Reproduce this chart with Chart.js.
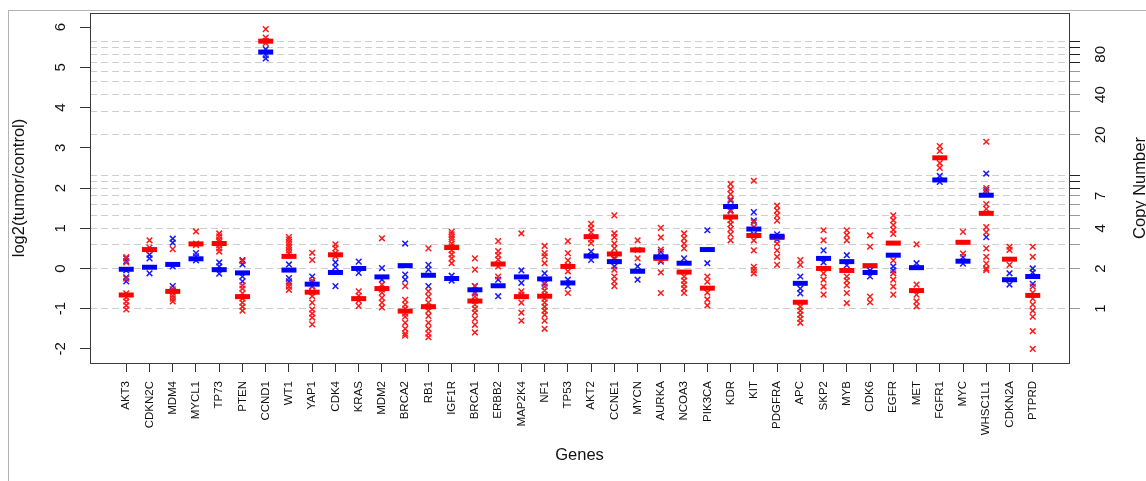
<!DOCTYPE html>
<html>
<head>
<meta charset="utf-8">
<script src="https://cdn.jsdelivr.net/npm/chart.js@4.4.1/dist/chart.umd.min.js"></script>
<style>
  html, body { margin: 0; padding: 0; background: #fff; }
  #wrap { width: 1146px; height: 481px; }
</style>
</head>
<body>
<div id="wrap"><canvas id="chart" width="1146" height="481"></canvas></div>
<script>
const genes = ['AKT3','CDKN2C','MDM4','MYCL1','TP73','PTEN','CCND1','WT1','YAP1','CDK4','KRAS','MDM2','BRCA2','RB1','IGF1R','BRCA1','ERBB2','MAP2K4','NF1','TP53','AKT2','CCNE1','MYCN','AURKA','NCOA3','PIK3CA','KDR','KIT','PDGFRA','APC','SKP2','MYB','CDK6','EGFR','MET','FGFR1','MYC','WHSC1L1','CDKN2A','PTPRD'];

// medians, one per gene
const redMedian = [-0.66, 0.47, -0.57, 0.61, 0.62, -0.70, 5.65, 0.30, -0.59, 0.34, -0.75, -0.50, -1.06, -0.95, 0.52, -0.81, 0.11, -0.70, -0.69, 0.05, 0.79, 0.36, 0.46, 0.25, -0.09, -0.49, 1.28, 0.82, 0.77, -0.84, 0.00, -0.05, 0.07, 0.63, -0.55, 2.75, 0.65, 1.37, 0.23, -0.67];
const blueMedian = [-0.02, 0.03, 0.10, 0.24, -0.03, -0.11, 5.38, -0.04, -0.39, -0.10, 0.00, -0.21, 0.07, -0.17, -0.25, -0.53, -0.43, -0.21, -0.26, -0.36, 0.31, 0.17, -0.07, 0.29, 0.13, 0.47, 1.54, 0.98, 0.80, -0.37, 0.25, 0.17, -0.10, 0.33, 0.02, 2.20, 0.18, 1.82, -0.28, -0.20];

// individual samples per gene
const redPoints = [
  [0.28, 0.15, -0.25, -0.62, -0.72, -0.82, -0.92, -1.02],
  [0.70, 0.52, 0.45],
  [0.48, -0.52, -0.60, -0.68, -0.75, -0.82],
  [0.92, 0.62, 0.58],
  [0.87, 0.80, 0.72, 0.66, 0.58, 0.50, 0.42],
  [0.18, -0.42, -0.50, -0.62, -0.75, -0.85, -0.95, -1.05],
  [5.95, 5.74, 5.66, 5.60],
  [0.78, 0.72, 0.65, 0.58, 0.52, 0.45, 0.38, -0.38, -0.45, -0.53],
  [0.39, 0.21, -0.30, -0.44, -0.59, -0.69, -0.85, -1.02, -1.12, -1.22, -1.39],
  [0.60, 0.50, 0.38, 0.30],
  [-0.57, -0.68, -0.80, -0.93],
  [0.75, -0.40, -0.52, -0.60, -0.73, -0.85, -0.97],
  [-0.44, -0.78, -0.90, -1.00, -1.12, -1.20, -1.35, -1.50, -1.62, -1.67],
  [0.50, -0.57, -0.70, -0.85, -0.95, -1.05, -1.18, -1.35, -1.50, -1.62, -1.71],
  [0.91, 0.85, 0.78, 0.72, 0.62, 0.55, 0.45, 0.35, 0.25, 0.13],
  [0.25, -0.03, -0.44, -0.60, -0.70, -0.80, -0.90, -1.00, -1.10, -1.25, -1.40, -1.59],
  [0.68, 0.43, 0.33, 0.22, 0.05, -0.20],
  [0.87, -0.57, -0.65, -0.85, -1.10, -1.30],
  [0.56, 0.38, 0.30, 0.13, -0.36, -0.45, -0.55, -0.65, -0.75, -0.85, -0.95, -1.05, -1.15, -1.30, -1.50],
  [0.68, 0.38, 0.20, 0.08, -0.07, -0.61],
  [1.11, 1.00, 0.90, 0.72, 0.63],
  [1.32, 0.87, 0.78, 0.62, 0.50, 0.36, 0.22, -0.03, -0.20, -0.32, -0.44],
  [0.70, 0.46, 0.25],
  [1.01, 0.77, 0.47, 0.20, -0.10, -0.61],
  [0.87, 0.75, 0.62, 0.50, -0.20, -0.30, -0.40, -0.50, -0.61],
  [-0.20, -0.33, -0.60, -0.77, -0.92],
  [2.10, 1.97, 1.85, 1.72, 1.55, 1.42, 1.20, 1.10, 0.98, 0.85, 0.70],
  [2.18, 1.15, 1.03, 0.70, 0.45, 0.04, -0.04, -0.12],
  [1.56, 1.44, 1.32, 1.19, 0.62, 0.45, 0.29, 0.09],
  [0.21, 0.09, -0.95, -1.05, -1.15, -1.25, -1.35],
  [0.95, 0.70, -0.12, -0.28, -0.45, -0.65],
  [0.95, 0.83, 0.70, -0.20, -0.30, -0.42, -0.61, -0.86],
  [0.82, 0.54, -0.70, -0.84],
  [1.32, 1.20, 1.08, 0.96, 0.86, 0.20, -0.12, -0.28, -0.45, -0.65],
  [0.60, -0.40, -0.65, -0.82, -0.94],
  [3.04, 2.92, 2.62, 2.50],
  [0.91, 0.37],
  [3.15, 2.00, 1.90, 1.60, 1.48, 1.03, 0.90, 0.50, 0.29, 0.12, 0.00, -0.04],
  [0.54, 0.46, 0.09],
  [0.54, 0.29, -0.45, -0.60, -0.75, -0.90, -1.05, -1.20, -1.56, -2.00]
];
const bluePoints = [
  [0.25, 0.18, -0.05, -0.22, -0.32],
  [0.34, 0.25, -0.12],
  [0.74, 0.64, 0.05, -0.44],
  [0.38, 0.30, 0.20],
  [0.15, 0.05, -0.13],
  [0.21, 0.10, -0.20, -0.32],
  [5.45, 5.30, 5.22],
  [0.10, -0.24, -0.32],
  [-0.20, -0.35, -0.45],
  [0.15, 0.03, -0.44],
  [0.17, -0.11],
  [0.01, -0.28],
  [0.62, -0.15, -0.28],
  [0.09, -0.03, -0.44],
  [-0.18, -0.30],
  [-0.44, -0.62],
  [-0.28, -0.69],
  [-0.05, -0.36],
  [-0.12, -0.38],
  [-0.28, -0.44],
  [0.42, 0.21],
  [0.25, 0.05],
  [0.05, -0.28],
  [0.41, 0.17],
  [0.25],
  [0.95, 0.13],
  [1.69, 1.45],
  [1.40, 1.19, 0.85],
  [0.85, 0.72],
  [-0.20, -0.50, -0.62],
  [0.45, 0.15],
  [0.33, 0.08],
  [-0.20, -0.05],
  [0.05, -0.05],
  [0.13],
  [2.30, 2.15],
  [0.28, 0.12],
  [2.36, 1.95, 0.78],
  [-0.12, -0.40],
  [0.00, -0.10, -0.38]
];

const yTicks = [-2, -1, 0, 1, 2, 3, 4, 5, 6];
const copyTicks = [1, 2, 3, 4, 5, 6, 7, 8, 9, 10, 20, 30, 40, 50, 60, 70, 80, 90, 100];
const copyLabels = [1, 2, 4, 7, 20, 40, 80];
const darkCopyTicks = [8, 9, 10, 70, 80, 90, 100];

const Y_MIN = -2.35, Y_MAX = 6.35;
const FONT = '"Liberation Sans", Arial, sans-serif';

const toXY = (lists) => lists.flatMap((vals, i) => vals.map(v => ({ x: i, y: v })));
const medXY = (vals) => vals.map((v, i) => ({ x: i, y: v }));

function vtext(ctx, s, x, y) {
  ctx.save();
  ctx.translate(x, y);
  ctx.rotate(-Math.PI / 2);
  ctx.fillText(s, 0, 0);
  ctx.restore();
}

const decorations = {
  id: 'decorations',
  beforeDraw(chart) {
    const ctx = chart.ctx;
    ctx.save();
    ctx.strokeStyle = '#b4b4b4';
    ctx.lineWidth = 1;
    ctx.strokeRect(8.5, 10.5, 1300, 600);
    ctx.restore();
  },
  afterDraw(chart) {
    const { ctx, chartArea: a, scales } = chart;
    ctx.save();
    ctx.strokeStyle = '#3c3c3c';
    ctx.lineWidth = 1;
    ctx.strokeRect(Math.round(a.left) + 0.5, Math.round(a.top) + 0.5, Math.round(a.right - a.left), Math.round(a.bottom - a.top));

    ctx.fillStyle = '#111';
    ctx.textAlign = 'center';
    ctx.textBaseline = 'middle';
    ctx.font = '15px ' + FONT;
    yTicks.forEach(v => vtext(ctx, String(v), 61, scales.y.getPixelForValue(v)));
    copyLabels.forEach(c => vtext(ctx, String(c), 1101, scales.y2.getPixelForValue(Math.log2(c / 2))));

    ctx.font = '16.5px ' + FONT;
    const midY = (a.top + a.bottom) / 2;
    vtext(ctx, 'log2(tumor/control)', 19, midY);
    vtext(ctx, 'Copy Number', 1140, midY);
    ctx.fillText('Genes', (a.left + a.right) / 2, 455);
    ctx.restore();
  }
};

const ctx = document.getElementById('chart');

new Chart(ctx, {
  type: 'scatter',
  data: {
    datasets: [
      {
        label: 'red median',
        data: medXY(redMedian),
        pointStyle: 'line',
        pointRadius: 7.5,
        borderColor: '#ff0000',
        backgroundColor: '#ff0000',
        pointBorderWidth: 5,
        order: 1
      },
      {
        label: 'blue median',
        data: medXY(blueMedian),
        pointStyle: 'line',
        pointRadius: 7.5,
        borderColor: '#0000ff',
        backgroundColor: '#0000ff',
        pointBorderWidth: 5,
        order: 0
      },
      {
        label: 'red',
        data: toXY(redPoints),
        pointStyle: 'crossRot',
        pointRadius: 4,
        borderColor: '#ff1a1a',
        backgroundColor: '#ff1a1a',
        pointBorderWidth: 1.5,
        order: 2
      },
      {
        label: 'blue',
        data: toXY(bluePoints),
        pointStyle: 'crossRot',
        pointRadius: 4,
        borderColor: '#1a1aff',
        backgroundColor: '#1a1aff',
        pointBorderWidth: 1.5,
        order: 3
      }
    ]
  },
  options: {
    responsive: false,
    animation: false,
    events: [],
    layout: { padding: { top: 13, left: 0, right: 0, bottom: 0 } },
    plugins: {
      legend: { display: false },
      tooltip: { enabled: false }
    },
    scales: {
      x: {
        type: 'linear',
        position: 'bottom',
        min: -1.56,
        max: 40.56,
        afterBuildTicks: (s) => { s.ticks = genes.map((g, i) => ({ value: i })); },
        afterFit: (s) => { s.height = 118; },
        grid: { drawOnChartArea: false, tickLength: 9, color: '#333', tickColor: '#333' },
        border: { display: false },
        ticks: {
          autoSkip: false,
          minRotation: 90,
          maxRotation: 90,
          padding: 9,
          color: '#111',
          font: { family: FONT, size: 11.5 },
          callback: (v) => genes[v]
        }
      },
      y: {
        type: 'linear',
        position: 'left',
        min: Y_MIN,
        max: Y_MAX,
        afterBuildTicks: (s) => { s.ticks = yTicks.map(v => ({ value: v })); },
        afterFit: (s) => { s.width = 90; },
        grid: { drawOnChartArea: false, tickLength: 10, color: '#333', tickColor: '#333' },
        border: { display: false },
        ticks: { display: false }
      },
      y2: {
        type: 'linear',
        position: 'right',
        min: Y_MIN,
        max: Y_MAX,
        afterBuildTicks: (s) => { s.ticks = copyTicks.map(c => ({ value: Math.log2(c / 2) })); },
        afterFit: (s) => { s.width = 77; },
        grid: {
          drawOnChartArea: true,
          tickLength: 11,
          color: '#cdcdcd',
          lineWidth: 1,
          tickColor: (c) => {
            const cn = Math.round(2 * Math.pow(2, c.tick.value));
            return darkCopyTicks.includes(cn) ? '#222' : '#999';
          }
        },
        border: { display: false, dash: [7, 4] },
        ticks: { display: false }
      }
    }
  },
  plugins: [decorations]
});
</script>
</body>
</html>
